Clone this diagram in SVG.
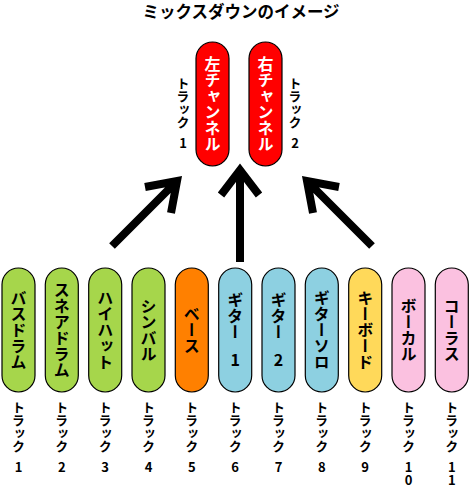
<svg xmlns="http://www.w3.org/2000/svg" width="470" height="486" viewBox="0 0 470 486">
<style>
text{font-family:"Noto Sans CJK JP","Noto Sans",sans-serif;font-weight:bold;fill:#000}
.v{writing-mode:vertical-rl;text-orientation:upright}
.pl{font-size:16px;text-anchor:middle}
.tr{font-size:13px;text-anchor:start}
.wt{fill:#fff}
.pill{stroke:#000;stroke-width:1.2}
.red{fill:#ff0000}
.grn{fill:#a6d64b}
.org{fill:#ff8000}
.blu{fill:#8dd0e1}
.yel{fill:#ffd95a}
.pnk{fill:#fbc1e0}
.arr{fill:none;stroke:#000;stroke-width:8;stroke-linejoin:miter;stroke-miterlimit:10}
</style>
<text x="241" y="18" style="font-size:16.5px;text-anchor:middle">ミックスダウンのイメージ</text>

<g id="left-channel">
<rect class="pill red" x="196" y="42" width="33" height="124" rx="16.5"/>
<text class="v pl wt" x="212.5" y="104">左チャンネル</text>
<text class="v tr" x="183" y="77">トラック<tspan dy="8">1</tspan></text>
</g>
<g id="right-channel">
<rect class="pill red" x="249" y="42" width="33" height="124" rx="16.5"/>
<text class="v pl wt" x="265.5" y="104">右チャンネル</text>
<text class="v tr" x="295" y="77">トラック<tspan dy="8">2</tspan></text>
</g>

<g id="connectors">
<path class="arr" d="M112,246 L177,181 M145,187 L177,181 L171,213"/>
<path class="arr" d="M240,262 L240,170 M221,195 L240,170 L259,195"/>
<path class="arr" d="M372,246 L307,181 M339,187 L307,181 L313,213"/>
</g>

<g id="t1">
<rect class="pill grn" x="2" y="268" width="33" height="124" rx="16.5"/>
<text class="v pl" x="18.5" y="330">バスドラム</text>
<text class="v tr" x="18.5" y="401">トラック<tspan dy="7.5">1</tspan></text>
</g>
<g id="t2">
<rect class="pill grn" x="45.3" y="268" width="33" height="124" rx="16.5"/>
<text class="v pl" x="61.8" y="330">スネアドラム</text>
<text class="v tr" x="61.8" y="401">トラック<tspan dy="7.5">2</tspan></text>
</g>
<g id="t3">
<rect class="pill grn" x="88.7" y="268" width="33" height="124" rx="16.5"/>
<text class="v pl" x="105.2" y="330">ハイハット</text>
<text class="v tr" x="105.2" y="401">トラック<tspan dy="7.5">3</tspan></text>
</g>
<g id="t4">
<rect class="pill grn" x="132" y="268" width="33" height="124" rx="16.5"/>
<text class="v pl" x="148.5" y="330">シンバル</text>
<text class="v tr" x="148.5" y="401">トラック<tspan dy="7.5">4</tspan></text>
</g>
<g id="t5">
<rect class="pill org" x="175.3" y="268" width="33" height="124" rx="16.5"/>
<text class="v pl" x="191.8" y="330">ベース</text>
<text class="v tr" x="191.8" y="401">トラック<tspan dy="7.5">5</tspan></text>
</g>
<g id="t6">
<rect class="pill blu" x="218.7" y="268" width="33" height="124" rx="16.5"/>
<text class="v pl" x="235.2" y="330">ギター<tspan dy="12">1</tspan></text>
<text class="v tr" x="235.2" y="401">トラック<tspan dy="7.5">6</tspan></text>
</g>
<g id="t7">
<rect class="pill blu" x="262" y="268" width="33" height="124" rx="16.5"/>
<text class="v pl" x="278.5" y="330">ギター<tspan dy="12">2</tspan></text>
<text class="v tr" x="278.5" y="401">トラック<tspan dy="7.5">7</tspan></text>
</g>
<g id="t8">
<rect class="pill blu" x="305.3" y="268" width="33" height="124" rx="16.5"/>
<text class="v pl" x="321.8" y="330">ギターソロ</text>
<text class="v tr" x="321.8" y="401">トラック<tspan dy="7.5">8</tspan></text>
</g>
<g id="t9">
<rect class="pill yel" x="348.7" y="268" width="33" height="124" rx="16.5"/>
<text class="v pl" x="365.2" y="330">キーボード</text>
<text class="v tr" x="365.2" y="401">トラック<tspan dy="7.5">9</tspan></text>
</g>
<g id="t10">
<rect class="pill pnk" x="392" y="268" width="33" height="124" rx="16.5"/>
<text class="v pl" x="408.5" y="330">ボーカル</text>
<text class="v tr" x="408.5" y="401">トラック<tspan dy="7.5">10</tspan></text>
</g>
<g id="t11">
<rect class="pill pnk" x="435.3" y="268" width="33" height="124" rx="16.5"/>
<text class="v pl" x="451.8" y="330">コーラス</text>
<text class="v tr" x="451.8" y="401">トラック<tspan dy="7.5">11</tspan></text>
</g>
</svg>
